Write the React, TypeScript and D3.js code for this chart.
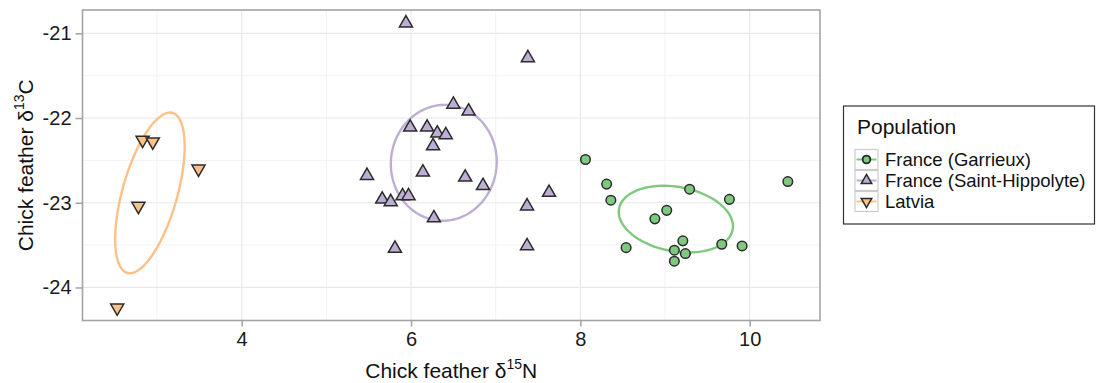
import { useEffect, useRef } from 'react';
import * as d3 from 'd3';

const populations = ['France (Garrieux)', 'France (Saint-Hippolyte)', 'Latvia'];
const colors = ['#7fc97f', '#beaed4', '#fdc086'];
const shapes = ['circle', 'triangle', 'triangleDown'];

const garrieuxN = [8.06, 8.31, 8.36, 8.54, 8.88, 9.02, 9.29, 9.21, 9.11, 9.24, 9.11, 9.67, 9.76, 9.91, 10.45];
const garrieuxC = [-22.49, -22.78, -22.97, -23.53, -23.19, -23.09, -22.84, -23.45, -23.56, -23.6, -23.69, -23.49, -22.96, -23.51, -22.75];

const hippolyteN = [5.94, 7.38, 6.5, 6.68, 5.99, 6.19, 6.31, 6.41, 6.26, 5.48, 6.14, 6.64, 6.85, 7.63, 5.66, 5.76, 5.9, 5.97, 7.37, 6.27, 5.81, 7.37];
const hippolyteC = [-20.88, -21.29, -21.84, -21.92, -22.11, -22.11, -22.18, -22.2, -22.33, -22.68, -22.64, -22.7, -22.8, -22.88, -22.96, -22.99, -22.92, -22.92, -23.04, -23.18, -23.54, -23.51];

const latviaN = [2.83, 2.95, 3.49, 2.78, 2.53];
const latviaC = [-22.26, -22.28, -22.6, -23.04, -24.24];

const xTicks = [4, 6, 8, 10];
const xMinor = [3, 5, 7, 9];
const yTicks = [-24, -23, -22, -21];
const yMinor = [-23.5, -22.5, -21.5];
const xDomain = [2.12, 10.83];
const yDomain = [-24.39, -20.725];

// small-sample corrected standard ellipse (SEAc)
const seac = (xs: number[], ys: number[]) => {
  const n = xs.length;
  const mx = d3.mean(xs)!;
  const my = d3.mean(ys)!;
  let sxx = 0, syy = 0, sxy = 0;
  xs.forEach((v, i) => {
    sxx += (v - mx) ** 2;
    syy += (ys[i] - my) ** 2;
    sxy += (v - mx) * (ys[i] - my);
  });
  sxx /= n - 2; syy /= n - 2; sxy /= n - 2;
  const l11 = Math.sqrt(sxx);
  const l21 = sxy / l11;
  const l22 = Math.sqrt(syy - l21 * l21);
  return d3.range(0, 100).map((k) => {
    const t = (k / 100) * Math.PI * 2;
    return [mx + l11 * Math.cos(t), my + l21 * Math.cos(t) + l22 * Math.sin(t)] as [number, number];
  });
};

const W = 1097;
const H = 383;
const FONT = '"Liberation Sans", Arial, Helvetica, sans-serif';

export default function App() {
  const svgRef = useRef<SVGSVGElement>(null);

  useEffect(() => {
    if (!svgRef.current) return;
    const svg = d3.select(svgRef.current);
    svg.selectAll('*').remove();

    const groups = [
      { n: garrieuxN, c: garrieuxC },
      { n: hippolyteN, c: hippolyteC },
      { n: latviaN, c: latviaC },
    ];

    const left = 82.5, right = 820, top = 10, bottom = 320.5;
    const x = d3.scaleLinear().domain(xDomain).range([left, right]);
    const y = d3.scaleLinear().domain(yDomain).range([bottom, top]);

    svg.append('rect').attr('x', left).attr('y', top)
      .attr('width', right - left).attr('height', bottom - top).attr('fill', 'white');

    const grid = svg.append('g');
    grid.selectAll('.vmin').data(xMinor).join('line')
      .attr('x1', (d) => x(d)).attr('x2', (d) => x(d)).attr('y1', top).attr('y2', bottom)
      .attr('stroke', '#f2f2f2').attr('stroke-width', 1);
    grid.selectAll('.hmin').data(yMinor).join('line')
      .attr('y1', (d) => y(d)).attr('y2', (d) => y(d)).attr('x1', left).attr('x2', right)
      .attr('stroke', '#f2f2f2').attr('stroke-width', 1);
    grid.selectAll('.vmaj').data(xTicks).join('line')
      .attr('x1', (d) => x(d)).attr('x2', (d) => x(d)).attr('y1', top).attr('y2', bottom)
      .attr('stroke', '#e8e8e8').attr('stroke-width', 1.2);
    grid.selectAll('.hmaj').data(yTicks).join('line')
      .attr('y1', (d) => y(d)).attr('y2', (d) => y(d)).attr('x1', left).attr('x2', right)
      .attr('stroke', '#e8e8e8').attr('stroke-width', 1.2);

    const line = d3.line<[number, number]>()
      .x((d) => x(d[0])).y((d) => y(d[1]))
      .curve(d3.curveLinearClosed);

    groups.forEach((g, i) => {
      svg.append('path').attr('d', line(seac(g.n, g.c)))
        .attr('fill', 'none').attr('stroke', colors[i]).attr('stroke-width', 2.4);
    });

    const tri = d3.symbol(d3.symbolTriangle, 74)();
    const drawShape = (sel: d3.Selection<SVGGElement, unknown, null, undefined>, i: number, scale: number) => {
      if (shapes[i] === 'circle') {
        sel.append('circle').attr('r', 4.8 * scale);
      } else {
        sel.append('path').attr('d', tri)
          .attr('transform', `${shapes[i] === 'triangleDown' ? 'rotate(180)' : ''} scale(${scale})`);
      }
      sel.selectAll('circle,path')
        .attr('fill', colors[i]).attr('stroke', '#2b2b2b')
        .attr('stroke-width', 1.5 / scale);
    };

    groups.forEach((g, i) => {
      g.n.forEach((v, k) => {
        const p = svg.append('g').attr('transform', `translate(${x(v)},${y(g.c[k])})`);
        drawShape(p, i, 1);
      });
    });

    svg.append('rect').attr('x', left).attr('y', top)
      .attr('width', right - left).attr('height', bottom - top)
      .attr('fill', 'none').attr('stroke', '#a3a3a3').attr('stroke-width', 1.6);

    const xAxis = svg.append('g').attr('transform', `translate(0,${bottom})`)
      .call(d3.axisBottom(x).tickValues(xTicks).tickFormat((d) => String(d)).tickSize(6).tickPadding(5).tickSizeOuter(0));
    const yAxis = svg.append('g').attr('transform', `translate(${left},0)`)
      .call(d3.axisLeft(y).tickValues(yTicks).tickFormat((d) => String(d)).tickSize(7).tickPadding(4).tickSizeOuter(0));
    [xAxis, yAxis].forEach((a) => {
      a.select('.domain').remove();
      a.selectAll('line').attr('stroke', '#a3a3a3').attr('stroke-width', 1.5);
      a.selectAll('text').attr('font-family', FONT).attr('font-size', 20).attr('fill', '#1a1a1a');
    });

    const xt = svg.append('text').attr('x', (left + right) / 2).attr('y', 378)
      .attr('text-anchor', 'middle').attr('font-family', FONT).attr('font-size', 21).attr('fill', '#111');
    xt.append('tspan').text('Chick feather δ');
    xt.append('tspan').attr('font-size', 14).attr('dy', -9).text('15');
    xt.append('tspan').attr('dy', 9).text('N');

    const yt = svg.append('text')
      .attr('transform', `translate(33,${(top + bottom) / 2}) rotate(-90)`)
      .attr('text-anchor', 'middle').attr('font-family', FONT).attr('font-size', 21).attr('fill', '#111');
    yt.append('tspan').text('Chick feather δ');
    yt.append('tspan').attr('font-size', 14).attr('dy', -9).text('13');
    yt.append('tspan').attr('dy', 9).text('C');

    // legend
    const lg = svg.append('g');
    lg.append('rect').attr('x', 843.5).attr('y', 106).attr('width', 251).attr('height', 118)
      .attr('fill', 'white').attr('stroke', '#333').attr('stroke-width', 1.2);
    lg.append('text').attr('x', 857).attr('y', 134).attr('font-family', FONT)
      .attr('font-size', 21).attr('fill', '#111').text('Population');
    populations.forEach((name, i) => {
      const cy = 159.5 + i * 21;
      lg.append('rect').attr('x', 855).attr('y', cy - 10).attr('width', 23).attr('height', 20)
        .attr('fill', 'white').attr('stroke', '#cccccc').attr('stroke-width', 1.2);
      lg.append('line').attr('x1', 856.5).attr('x2', 876.5).attr('y1', cy).attr('y2', cy)
        .attr('stroke', colors[i]).attr('stroke-width', 2);
      const k = lg.append('g').attr('transform', `translate(866.5,${cy})`);
      drawShape(k, i, 0.8);
      lg.append('text').attr('x', 885).attr('y', cy + 6.5).attr('font-family', FONT)
        .attr('font-size', 18.5).attr('fill', '#111').text(name);
    });
  }, []);

  return (
    <svg ref={svgRef} width={W} height={H} viewBox={`0 0 ${W} ${H}`}
      style={{ position: 'absolute', left: 0, top: 0, background: 'white' }} />
  );
}
